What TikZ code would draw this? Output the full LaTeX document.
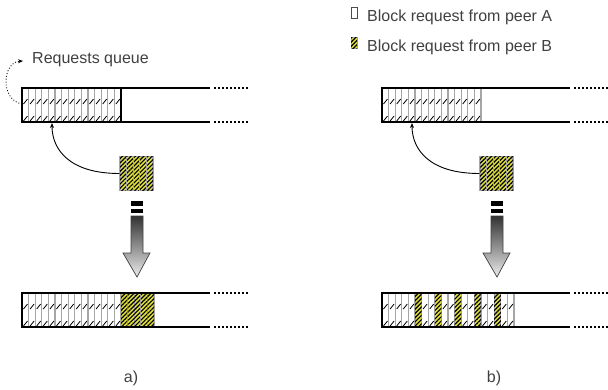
\documentclass[tikz,border=0pt]{standalone}
\usepackage{fontspec}
\setmainfont{Liberation Sans}
\usetikzlibrary{patterns.meta,arrows.meta,calc}
\definecolor{peeryellow}{RGB}{222,222,60}
\definecolor{txtgray}{RGB}{64,64,64}
\tikzset{
  cellA/.style={fill=white,draw=gray!70,line width=1.2pt},
  cellB/.style={fill=peeryellow,draw=gray!70,line width=1.2pt,
    postaction={pattern={Lines[angle=45,distance=3pt,line width=1.2pt]},pattern color=black}},
  slash/.style={black,line width=0.8pt},
  queue/.style={line width=1.2pt},
  queuetail/.style={line width=1.2pt,dash pattern=on 2pt off 2pt},
  label/.style={font=\fontsize{16}{18}\selectfont,text=txtgray,inner sep=0pt},
}
\begin{document}
\begin{tikzpicture}[x=1pt,y=-1pt]
  \useasboundingbox (0,0) rectangle (608,389);
  % legend
  \node[cellA,line width=0.8pt,draw=black!70,minimum width=6pt,minimum height=11pt,inner sep=0pt] (icnA) at (354,13) {};
  \node[cellB,line width=0.8pt,minimum width=6pt,minimum height=11pt,inner sep=0pt] (icnB) at (354,43) {};
  \node[label,anchor=base west] (lgdA) at (367,21) {Block request from peer A};
  \node[label,anchor=base west] (lgdB) at (367,51) {Block request from peer B};
  % a) queue before
  \foreach \i in {0,...,14}{
    \draw[cellA] (22+\i*6.6,88) rectangle (28.6+\i*6.6,122);
    \draw[slash] (23.5+\i*6.6,104) -- (27.5+\i*6.6,99);
    \draw[slash] (23.5+\i*6.6,121) -- (27.5+\i*6.6,116);
  }
  \draw[queue] (121,88) -- (121,122);
  \draw[queue] (210,88) -- (22,88) -- (22,122) -- (210,122);
  \draw[queuetail] (214,88) -- (248,88);
  \draw[queuetail] (214,122) -- (248,122);
  \node[label,anchor=base west] (rqq) at (32,63) {Requests queue};
  \coordinate (rqtip) at ($(rqq.base west)+(-9,-2)$);
  \draw[dotted,line width=0.9pt,-{Stealth[length=5pt,width=4pt]}] (22,104) .. controls (0,100) and (2,62) .. (rqtip);
  % a) incoming block
  \node[cellB,minimum width=33pt,minimum height=34pt,inner sep=0pt] (blkA) at (136.5,173.5) {};
  \foreach \i in {1,...,4}
    \draw[gray!70,line width=1.2pt] (120+\i*6.6,156.5) -- (120+\i*6.6,190.5);
  \coordinate (tgtA) at (52,123);
  \draw[line width=0.9pt,-{Stealth[length=5pt,width=4pt]}] (blkA.west) .. controls (70,173.5) and (52,150) .. (tgtA);
  % a) big arrow
  \fill[black] (131,201) rectangle (143,206);
  \fill[black] (131,209) rectangle (143,213);
  \shade[top color=black!80,bottom color=gray!15,draw=black!75,line width=0.7pt]
    (131,216) -- (143,216) -- (143,253) -- (150,253) -- (137,277) -- (123,253) -- (131,253) -- cycle;
  % a) queue after
  \foreach \i in {0,...,14}{
    \draw[cellA] (22+\i*6.6,293) rectangle (28.6+\i*6.6,327);
    \draw[slash] (23.5+\i*6.6,309) -- (27.5+\i*6.6,304);
    \draw[slash] (23.5+\i*6.6,326) -- (27.5+\i*6.6,321);
  }
  \foreach \i in {15,...,19}
    \draw[cellB] (22+\i*6.6,293) rectangle (28.6+\i*6.6,327);
  \draw[queue] (210,293) -- (22,293) -- (22,327) -- (210,327);
  \draw[queuetail] (214,293) -- (248,293);
  \draw[queuetail] (214,327) -- (248,327);
  \node[label,anchor=base] (capA) at (131,382) {a)};
  % b)
  \begin{scope}[xshift=360pt]
    \foreach \i in {0,...,14}{
      \draw[cellA] (22+\i*6.6,88) rectangle (28.6+\i*6.6,122);
      \draw[slash] (23.5+\i*6.6,104) -- (27.5+\i*6.6,99);
      \draw[slash] (23.5+\i*6.6,121) -- (27.5+\i*6.6,116);
    }
    \draw[queue] (210,88) -- (22,88) -- (22,122) -- (210,122);
    \draw[queuetail] (214,88) -- (248,88);
    \draw[queuetail] (214,122) -- (248,122);
    \node[cellB,minimum width=33pt,minimum height=34pt,inner sep=0pt] (blkB) at (136.5,173.5) {};
    \foreach \i in {1,...,4}
      \draw[gray!70,line width=1.2pt] (120+\i*6.6,156.5) -- (120+\i*6.6,190.5);
    \coordinate (tgtB) at (52,123);
    \draw[line width=0.9pt,-{Stealth[length=5pt,width=4pt]}] (blkB.west) .. controls (70,173.5) and (52,150) .. (tgtB);
    \fill[black] (131,201) rectangle (143,206);
    \fill[black] (131,209) rectangle (143,213);
    \shade[top color=black!80,bottom color=gray!15,draw=black!75,line width=0.7pt]
      (131,216) -- (143,216) -- (143,253) -- (150,253) -- (137,277) -- (123,253) -- (131,253) -- cycle;
    \foreach \i in {0,...,19}{
      \draw[cellA] (22+\i*6.6,293) rectangle (28.6+\i*6.6,327);
      \draw[slash] (23.5+\i*6.6,309) -- (27.5+\i*6.6,304);
      \draw[slash] (23.5+\i*6.6,326) -- (27.5+\i*6.6,321);
    }
    \foreach \i in {5,8,11,14,17}
      \draw[cellB] (22+\i*6.6,293) rectangle (28.6+\i*6.6,327);
    \draw[queue] (210,293) -- (22,293) -- (22,327) -- (210,327);
    \draw[queuetail] (214,293) -- (248,293);
    \draw[queuetail] (214,327) -- (248,327);
    \node[label,anchor=base] (capB) at (134,382) {b)};
  \end{scope}
\end{tikzpicture}
\end{document}
